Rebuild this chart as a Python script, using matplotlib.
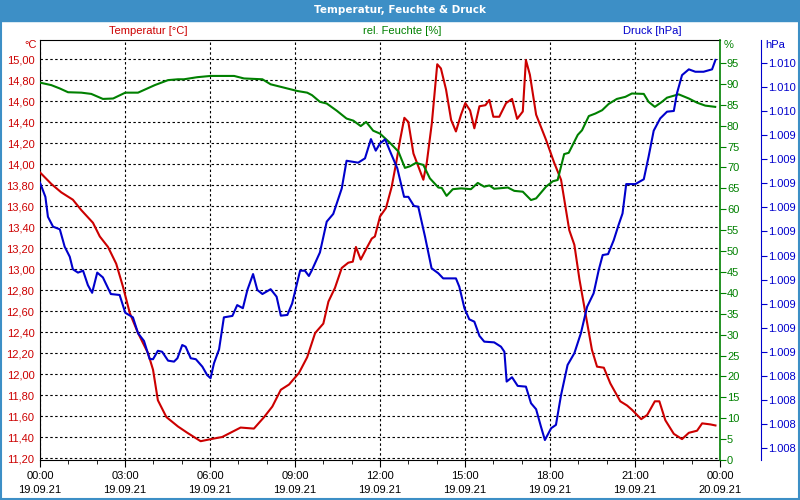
import numpy as np
import matplotlib.pyplot as plt
from matplotlib.ticker import FixedLocator, MultipleLocator, FuncFormatter
from matplotlib.patches import Rectangle

# Temperatur [°C], Zeit in Stunden ab 19.09.21 00:00
temp_h = [0.0, 0.40, 0.75, 1.16, 1.46, 1.87, 2.11, 2.40, 2.69, 2.93, 3.17, 3.46, 3.81, 3.99,
          4.16, 4.46, 4.87, 5.20, 5.67, 6.03, 6.43, 7.08, 7.55, 7.91, 8.20, 8.50, 8.79, 9.14,
          9.43, 9.71, 10.00, 10.18, 10.41, 10.65, 10.88, 11.04, 11.15, 11.32, 11.53, 11.71,
          11.82, 12.00, 12.21, 12.41, 12.57, 12.71, 12.86, 13.00, 13.18, 13.53, 13.65, 13.83,
          14.02, 14.15, 14.33, 14.51, 14.68, 14.86, 15.01, 15.18, 15.33, 15.51, 15.72, 15.86,
          16.00, 16.21, 16.45, 16.66, 16.84, 17.04, 17.15, 17.29, 17.51, 17.86, 18.15, 18.39,
          18.68, 18.86, 19.04, 19.25, 19.48, 19.66, 19.90, 20.13, 20.48, 20.72, 20.89, 21.22,
          21.43, 21.70, 21.86, 22.07, 22.37, 22.66, 22.90, 23.19, 23.37, 23.66, 23.84]
temp_c = [13.92, 13.81, 13.73, 13.66, 13.56, 13.44, 13.31, 13.21, 13.05, 12.83, 12.58, 12.39,
          12.20, 12.04, 11.75, 11.59, 11.50, 11.44, 11.36, 11.38, 11.40, 11.49, 11.48, 11.59,
          11.69, 11.85, 11.90, 12.01, 12.16, 12.39, 12.48, 12.69, 12.82, 13.01, 13.06, 13.07,
          13.21, 13.09, 13.20, 13.29, 13.31, 13.50, 13.58, 13.78, 14.01, 14.23, 14.44, 14.40,
          14.10, 13.85, 14.01, 14.39, 14.95, 14.91, 14.71, 14.42, 14.31, 14.47, 14.58, 14.51,
          14.34, 14.55, 14.56, 14.61, 14.45, 14.45, 14.58, 14.62, 14.43, 14.50, 14.99, 14.85,
          14.47, 14.23, 14.01, 13.85, 13.37, 13.23, 12.90, 12.58, 12.23, 12.07, 12.06, 11.91,
          11.74, 11.70, 11.66, 11.57, 11.61, 11.74, 11.74, 11.56, 11.43, 11.38, 11.44, 11.46,
          11.53, 11.52, 11.51]

# rel. Feuchte [%]
hum_h = [0.0, 0.40, 0.70, 0.99, 1.46, 1.81, 2.22, 2.58, 3.01, 3.46, 4.05, 4.52, 4.87, 5.08,
         5.55, 6.02, 6.85, 7.20, 7.85, 8.14, 8.73, 9.08, 9.43, 9.60, 9.88, 10.12, 10.47, 10.82,
         11.06, 11.32, 11.51, 11.76, 12.00, 12.35, 12.65, 12.88, 13.06, 13.27, 13.53, 13.76,
         14.06, 14.18, 14.35, 14.57, 14.86, 15.21, 15.45, 15.68, 15.86, 16.03, 16.51, 16.74,
         17.04, 17.33, 17.51, 17.86, 18.10, 18.27, 18.50, 18.66, 18.98, 19.13, 19.37, 19.60,
         19.84, 20.07, 20.36, 20.66, 20.89, 21.31, 21.48, 21.70, 21.95, 22.13, 22.54, 22.90,
         23.19, 23.48, 23.83]
hum_pct = [90.3, 89.7, 88.9, 88.0, 87.9, 87.6, 86.4, 86.5, 87.9, 87.9, 89.7, 90.9, 91.1, 91.1,
           91.6, 91.9, 91.9, 91.3, 91.1, 89.9, 88.9, 88.3, 87.9, 87.3, 85.7, 85.3, 83.6, 81.7,
           81.2, 79.9, 80.9, 78.8, 78.1, 75.9, 73.8, 69.9, 70.3, 71.1, 70.6, 67.4,
           65.2, 65.1, 63.2, 64.8, 65.0, 64.8, 66.3, 65.4, 65.7, 64.9, 65.2, 64.4,
           64.2, 62.2, 62.6, 65.4, 66.7, 67.0, 73.2, 73.5, 77.8, 78.9, 82.3, 82.9,
           83.7, 85.2, 86.4, 86.9, 87.7, 87.6, 85.7, 84.5, 85.7, 86.7, 87.5, 86.5,
           85.5, 84.8, 84.5]

# Druck [hPa]
press_h = [0.0, 0.19, 0.28, 0.46, 0.70, 0.87, 1.05, 1.16, 1.34, 1.52, 1.69, 1.84, 2.02, 2.22,
           2.50, 2.81, 3.01, 3.28, 3.46, 3.67, 3.87, 3.99, 4.16, 4.31, 4.52, 4.73, 4.85, 5.02,
           5.14, 5.32, 5.50, 5.73, 5.90, 6.02, 6.14, 6.32, 6.49, 6.79, 6.96, 7.16, 7.32, 7.52,
           7.67, 7.85, 8.14, 8.35, 8.50, 8.73, 8.90, 9.18, 9.35, 9.49, 9.60, 9.88, 10.12, 10.35,
           10.65, 10.82, 11.23, 11.47, 11.68, 11.85, 12.00, 12.18, 12.41, 12.61, 12.85, 13.00,
           13.20, 13.35, 13.59, 13.82, 14.06, 14.23, 14.68, 14.80, 14.98, 15.15, 15.33, 15.51,
           15.68, 16.03, 16.27, 16.39, 16.47, 16.66, 16.86, 17.15, 17.33, 17.51, 17.68, 17.82,
           18.04, 18.21, 18.39, 18.62, 18.86, 19.09, 19.31, 19.54, 19.72, 19.86, 20.05, 20.25,
           20.42, 20.56, 20.69, 21.01, 21.31, 21.48, 21.66, 21.89, 22.13, 22.37, 22.48, 22.66,
           22.90, 23.13, 23.42, 23.72, 23.84]
press_hpa = [1009.203, 1009.144, 1009.061, 1009.020, 1009.009, 1008.937, 1008.895, 1008.843,
             1008.829, 1008.837, 1008.777, 1008.745, 1008.829, 1008.809, 1008.740, 1008.736,
             1008.662, 1008.643, 1008.577, 1008.545, 1008.470, 1008.469, 1008.504, 1008.500,
             1008.463, 1008.459, 1008.473, 1008.528, 1008.521, 1008.473, 1008.469, 1008.438,
             1008.403, 1008.390, 1008.452, 1008.510, 1008.643, 1008.649, 1008.694, 1008.681,
             1008.757, 1008.823, 1008.757, 1008.740, 1008.760, 1008.729, 1008.650, 1008.653,
             1008.701, 1008.837, 1008.837, 1008.815, 1008.840, 1008.913, 1009.041, 1009.073,
             1009.179, 1009.294, 1009.286, 1009.304, 1009.384, 1009.336, 1009.366, 1009.383,
             1009.318, 1009.263, 1009.144, 1009.144, 1009.106, 1009.103, 1008.978, 1008.847,
             1008.826, 1008.805, 1008.805, 1008.770, 1008.681, 1008.635, 1008.625, 1008.566,
             1008.542, 1008.539, 1008.521, 1008.500, 1008.376, 1008.394, 1008.358, 1008.355,
             1008.286, 1008.261, 1008.189, 1008.133, 1008.182, 1008.196, 1008.320, 1008.445,
             1008.494, 1008.577, 1008.687, 1008.743, 1008.840, 1008.902, 1008.906, 1008.964,
             1009.027, 1009.075, 1009.197, 1009.197, 1009.217, 1009.311, 1009.419, 1009.470,
             1009.498, 1009.501, 1009.574, 1009.650, 1009.674, 1009.664, 1009.664, 1009.674,
             1009.713]

x_ticks = [0, 3, 6, 9, 12, 15, 18, 21, 24]
x_labels = ["00:00\n19.09.21", "03:00\n19.09.21", "06:00\n19.09.21", "09:00\n19.09.21",
            "12:00\n19.09.21", "15:00\n19.09.21", "18:00\n19.09.21", "21:00\n19.09.21",
            "00:00\n20.09.21"]
temp_ticks = np.round(np.arange(11.2, 15.01, 0.2), 2)
hum_ticks = np.arange(0, 96, 5)
press_ticks = 1008.1 + 0.1 * np.arange(17)

RED = '#cc0000'
GREEN = '#008000'
BLUE = '#0000cc'
BAR = '#3d8fc6'

plt.rcParams['font.family'] = ['Liberation Sans', 'DejaVu Sans']
plt.rcParams['font.size'] = 8

fig = plt.figure(figsize=(8, 5), dpi=100)
fig.patches.append(Rectangle((0, 1 - 21 / 500), 1, 21 / 500, transform=fig.transFigure,
                             color=BAR, zorder=0))
fig.patches.append(Rectangle((0.001, 0.002), 0.998, 0.996, transform=fig.transFigure,
                             fill=False, edgecolor=BAR, lw=1.5, zorder=0))
fig.text(0.5, 1 - 10 / 500, 'Temperatur, Feuchte & Druck', color='white', weight='bold',
         ha='center', va='center', fontsize=7.5, family='DejaVu Sans')

ax = fig.add_axes([40 / 800, 40 / 500, 680 / 800, 420 / 500])
ax2 = ax.twinx()
ax3 = ax.twinx()

grid_style = dict(color='black', lw=0.8, ls=(0, (2.2, 2.2)))

# temperature, left axis
ax.plot(temp_h, temp_c, color=RED, lw=1.5, zorder=3)
ax.set_xlim(0, 24)
ax.set_ylim(11.181, 15.181)
ax.yaxis.set_major_locator(FixedLocator(temp_ticks))
ax.yaxis.set_major_formatter(FuncFormatter(lambda v, p: f"{v:.2f}".replace('.', ',')))
ax.tick_params(axis='y', colors=RED, length=0, pad=4)
ax.xaxis.set_major_locator(FixedLocator(x_ticks))
ax.xaxis.set_minor_locator(MultipleLocator(1))
ax.set_xticklabels(x_labels, linespacing=1.45)
ax.tick_params(axis='x', which='major', length=5, colors='black', labelcolor='black', pad=3)
ax.tick_params(axis='x', which='minor', length=3)
ax.grid(True, axis='both', **grid_style)
for s in ['left', 'bottom', 'top']:
    ax.spines[s].set_color('black')
ax.spines['right'].set_visible(False)

# humidity, first right axis
ax2.plot(hum_h, hum_pct, color=GREEN, lw=1.5)
ax2.set_ylim(0, 100.5)
ax2.yaxis.set_major_locator(FixedLocator(hum_ticks))
ax2.tick_params(axis='y', colors=GREEN, length=4, pad=1)
ax2.spines['right'].set_color(GREEN)
ax2.spines['right'].set_linewidth(1.2)
for s in ['left', 'bottom', 'top']:
    ax2.spines[s].set_visible(False)

# pressure, second right axis
ax3.plot(press_h, press_hpa, color=BLUE, lw=1.5)
ax3.set_ylim(1008.05, 1009.796)
ax3.spines['right'].set_position(('axes', 1 + 41 / 680))
ax3.spines['right'].set_color(BLUE)
for s in ['left', 'bottom', 'top']:
    ax3.spines[s].set_visible(False)
ax3.yaxis.set_major_locator(FixedLocator(press_ticks))
ax3.yaxis.set_major_formatter(
    FuncFormatter(lambda v, p: f"{int(np.floor(v + 0.5 + 1e-6)):,}".replace(',', '.')))
ax3.tick_params(axis='y', colors=BLUE, length=4, pad=1)

# axis headers
fig.text(148 / 800, 1 - 31 / 500, 'Temperatur [°C]', color=RED, ha='center', va='center')
fig.text(402 / 800, 1 - 31 / 500, 'rel. Feuchte [%]', color=GREEN, ha='center', va='center')
fig.text(652 / 800, 1 - 31 / 500, 'Druck [hPa]', color=BLUE, ha='center', va='center')
fig.text(37 / 800, 1 - 45 / 500, '°C', color=RED, ha='right', va='center')
fig.text(724 / 800, 1 - 45 / 500, '%', color=GREEN, ha='left', va='center')
fig.text(765 / 800, 1 - 45 / 500, 'hPa', color=BLUE, ha='left', va='center')

fig.savefig('out.png', dpi=100)
